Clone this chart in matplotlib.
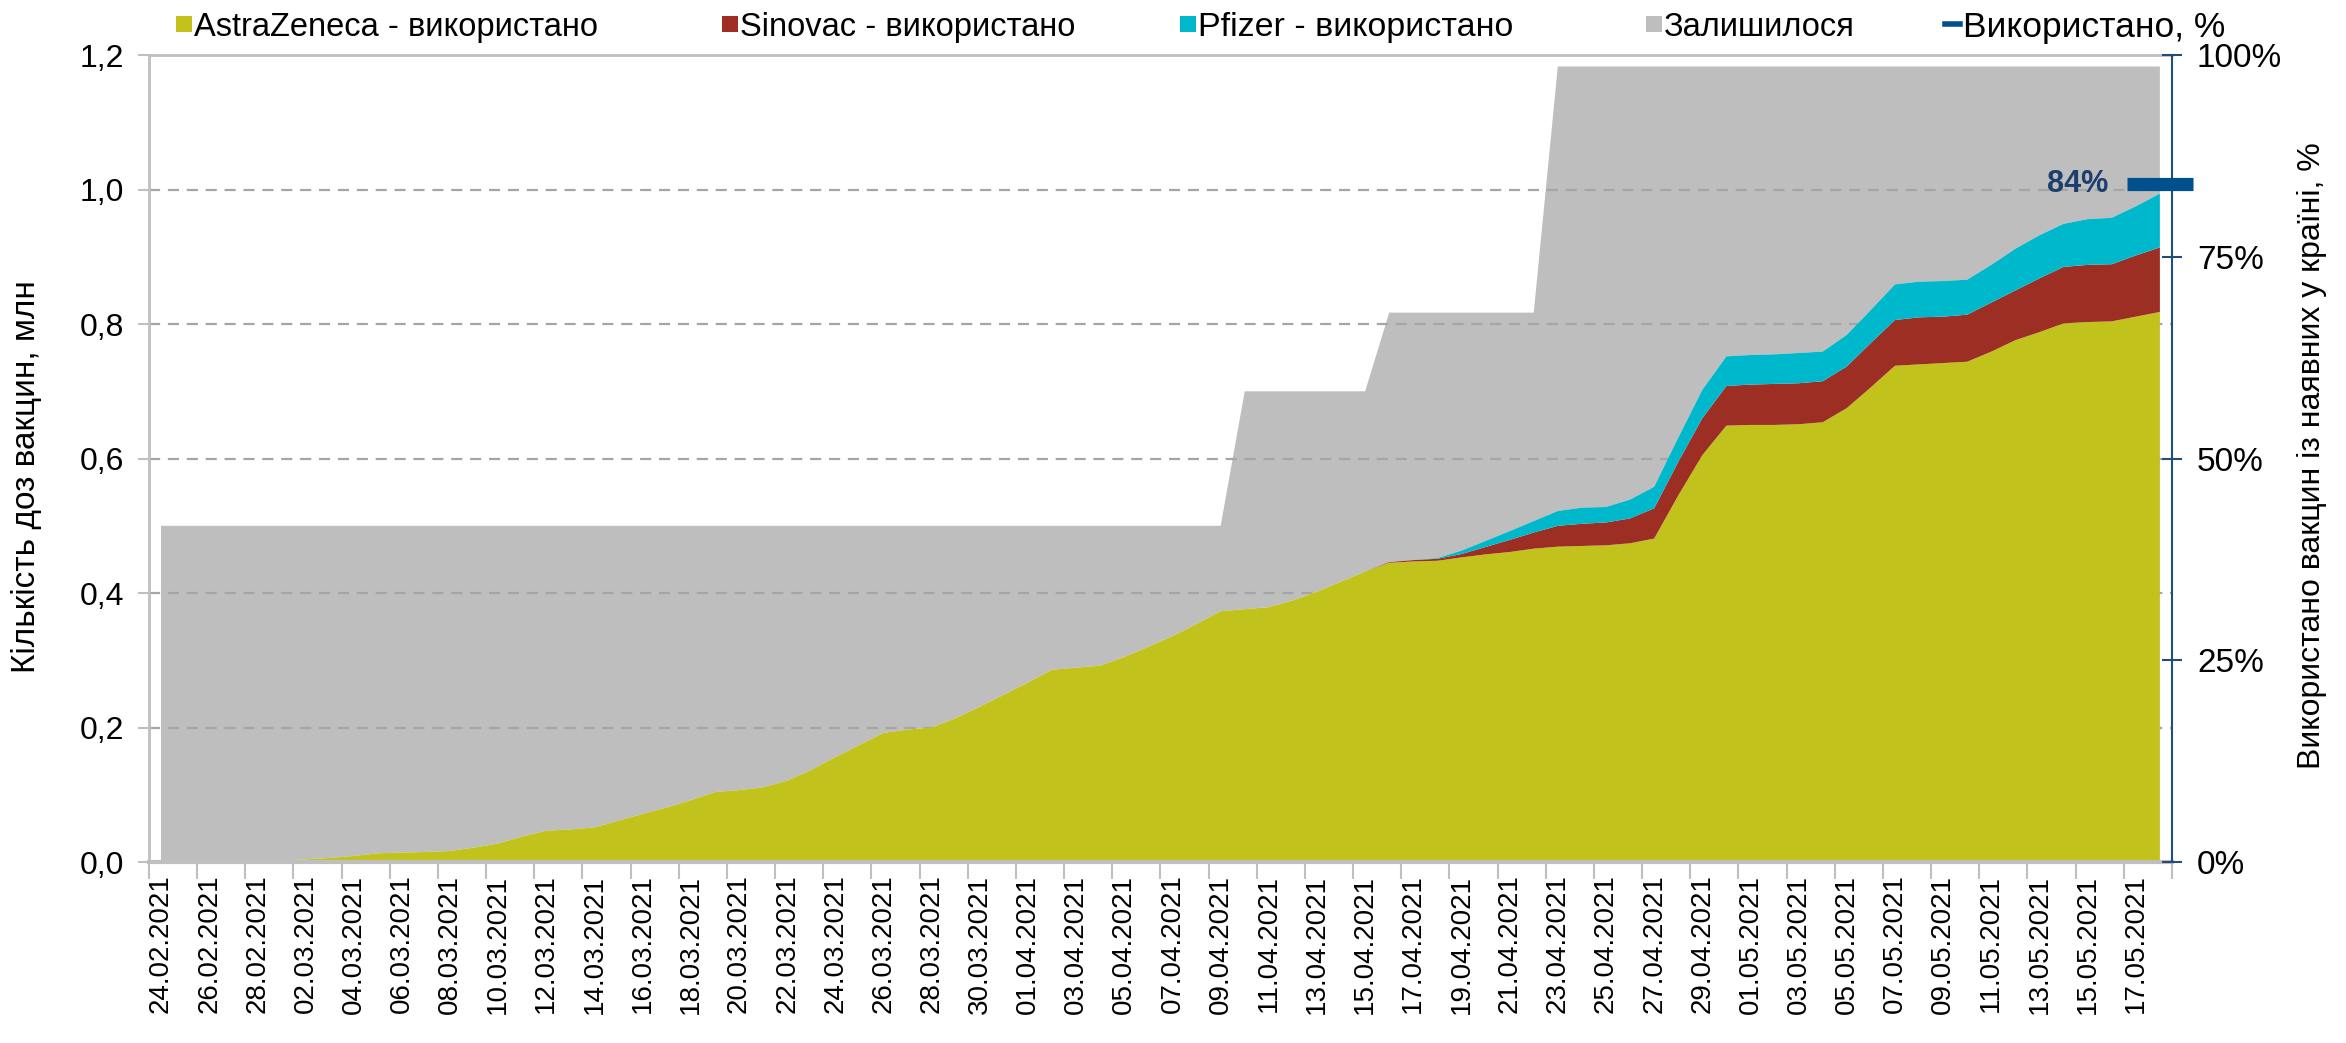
import numpy as np
import pandas as pd
import matplotlib
matplotlib.use("Agg")
import matplotlib.pyplot as plt
from matplotlib.patches import Rectangle
from matplotlib.lines import Line2D

plt.rcParams['font.family'] = ['Liberation Sans', 'DejaVu Sans']

# Daily dates (24.02.2021 - 18.05.2021)
Dates = pd.date_range("2021-02-24", "2021-05-18", freq="D")
Tick_Labels = list(Dates[::2].strftime("%d.%m.%Y"))

# Doses used, mln
AstraZeneca = [0.000, 0.0005, 0.001, 0.001, 0.0015, 0.0025, 0.004, 0.006, 0.009, 0.013,
               0.014, 0.015, 0.0165, 0.0215, 0.0275, 0.038, 0.0465, 0.0485, 0.0515, 0.0615,
               0.0715, 0.081, 0.092, 0.104, 0.107, 0.111, 0.121, 0.137, 0.156, 0.174,
               0.192, 0.197, 0.200, 0.214, 0.231, 0.249, 0.267, 0.286, 0.289, 0.292,
               0.305, 0.320, 0.336, 0.354, 0.373, 0.376, 0.379, 0.389, 0.402, 0.417,
               0.432, 0.445, 0.447, 0.448, 0.453, 0.4575, 0.461, 0.466, 0.469, 0.470,
               0.471, 0.474, 0.481, 0.545, 0.605, 0.649, 0.650, 0.650, 0.651, 0.654,
               0.675, 0.706, 0.738, 0.740, 0.742, 0.744, 0.759, 0.776, 0.788, 0.801,
               0.803, 0.804, 0.811, 0.818]
Sinovac = [0.0] * 51 + [0.001, 0.002, 0.003, 0.005, 0.011, 0.018, 0.024, 0.031, 0.033,
                        0.034, 0.037, 0.045, 0.050, 0.055, 0.059, 0.060, 0.061, 0.061, 0.061,
                        0.062, 0.066, 0.068, 0.070, 0.069, 0.070, 0.073, 0.074, 0.080, 0.084,
                        0.085, 0.085, 0.091, 0.096]
Pfizer = [0.0] * 53 + [0.001, 0.005, 0.009, 0.013, 0.017, 0.022, 0.024, 0.023, 0.028,
                       0.032, 0.036, 0.042, 0.044, 0.044, 0.044, 0.045, 0.044, 0.047, 0.049,
                       0.053, 0.053, 0.053, 0.052, 0.056, 0.062, 0.064, 0.064, 0.068, 0.069,
                       0.073, 0.080]
# Doses available in the country, mln
Available = [0.5] * 45 + [0.7] * 6 + [0.817] * 7 + [1.183] * 26

Labels = ["AstraZeneca - використано", "Sinovac - використано", "Pfizer - використано",
          "Залишилося", "Використано, %"]
Colours = ["#C2C21D", "#9C2E24", "#00B8CC", "#BEBEBE", "#00508C"]

AZ = np.array(AstraZeneca)
SV = np.array(Sinovac)
PF = np.array(Pfizer)
Used = AZ + SV + PF
Remaining = np.array(Available) - Used
Used_Pct = Used[-1] / Available[-1]

x = np.arange(len(Dates))

fig = plt.figure(figsize=(23.46, 10.43), dpi=100)
ax = fig.add_axes([0.0635, 0.1735, 0.8623, 0.7737])

polys = ax.stackplot(x, AZ, SV, PF, Remaining, colors=Colours[:4], linewidth=0)
polys[3].set_zorder(1)
for p in polys[:3]:
    p.set_zorder(2)

for yv in np.arange(0.2, 1.01, 0.2):
    ax.axhline(yv, color="#A5A5A5", lw=1.6, ls=(0, (5, 3.5)), zorder=1.5)

ax.set_xlim(-0.5, len(x) - 0.5)
ax.set_ylim(0, 1.2)
yt = np.arange(0, 1.21, 0.2)
ax.set_yticks(yt)
ax.set_yticklabels([f"{v:.1f}".replace(".", ",") for v in yt], fontsize=23)
ax.tick_params(axis="y", length=8, width=1.5, color="#BFBFBF", pad=10)

ax.set_xticks(np.arange(-0.5, len(x), 2))
ax.set_xticklabels([])
ax.set_xticks(x[::2], minor=True)
ax.set_xticklabels(Tick_Labels, minor=True, rotation=90, fontsize=20)
ax.tick_params(axis="x", which="major", length=12, width=1.5, color="#BFBFBF")
ax.tick_params(axis="x", which="minor", length=0, pad=9)

for s in ["left", "top"]:
    ax.spines[s].set_color("#BFBFBF")
    ax.spines[s].set_linewidth(2)
ax.spines["bottom"].set_color("#BFBFBF")
ax.spines["bottom"].set_linewidth(3)
ax.spines["right"].set_visible(False)

# Secondary axis: share of used doses
ax2 = ax.twinx()
ax2.set_ylim(0, 1)
pt = np.arange(0, 1.01, 0.25)
ax2.set_yticks(pt)
ax2.set_yticklabels([f"{v:.0%}" for v in pt], fontsize=24)
ax2.tick_params(axis="y", direction="inout", length=14, width=1.5, color="#1F4E79", pad=11)
for s in ["left", "top", "bottom"]:
    ax2.spines[s].set_visible(False)
ax2.spines["right"].set_color("#1F4E79")
ax2.spines["right"].set_linewidth(1.5)

ax2.plot([x[-1]], [Used_Pct], ls="none", marker="_", ms=47, mew=9.5,
         color=Colours[4], clip_on=False, zorder=5)
ax2.annotate(f"{Used_Pct:.0%}", (x[-1], Used_Pct), xytext=(-37, 0),
             textcoords="offset points", ha="right", va="center",
             fontsize=22, fontweight="bold", color="#1B3F6E")

fig.text(0.0115, 0.543, "Кількість доз вакцин, млн", rotation=90,
         ha="center", va="center", fontsize=24)
fig.text(0.9855, 0.563, "Використано вакцин із наявних у країні, %", rotation=90,
         ha="center", va="center", fontsize=23)

# Legend row, one entry at a time
W, H = 2346, 1043
Leg_X = [176, 722, 1180, 1646, 1945]
Leg_Y = 1 - 24 / H
Leg_Size = [23.5, 23.5, 24.5, 23.5, 25.5]
sq = 16
for i in range(5):
    x0 = Leg_X[i] / W
    if i < 4:
        fig.patches.append(Rectangle((x0, Leg_Y - sq / 2 / H), sq / W, sq / H,
                                     transform=fig.transFigure, facecolor=Colours[i],
                                     edgecolor="none"))
    else:
        fig.lines.append(Line2D([x0, x0 + 15 / W], [Leg_Y, Leg_Y], transform=fig.transFigure,
                                color=Colours[4], lw=4))
    fig.text(x0 + 18 / W, Leg_Y, Labels[i], ha="left", va="center_baseline",
             fontsize=Leg_Size[i])

fig.savefig("out.png", dpi=100)
